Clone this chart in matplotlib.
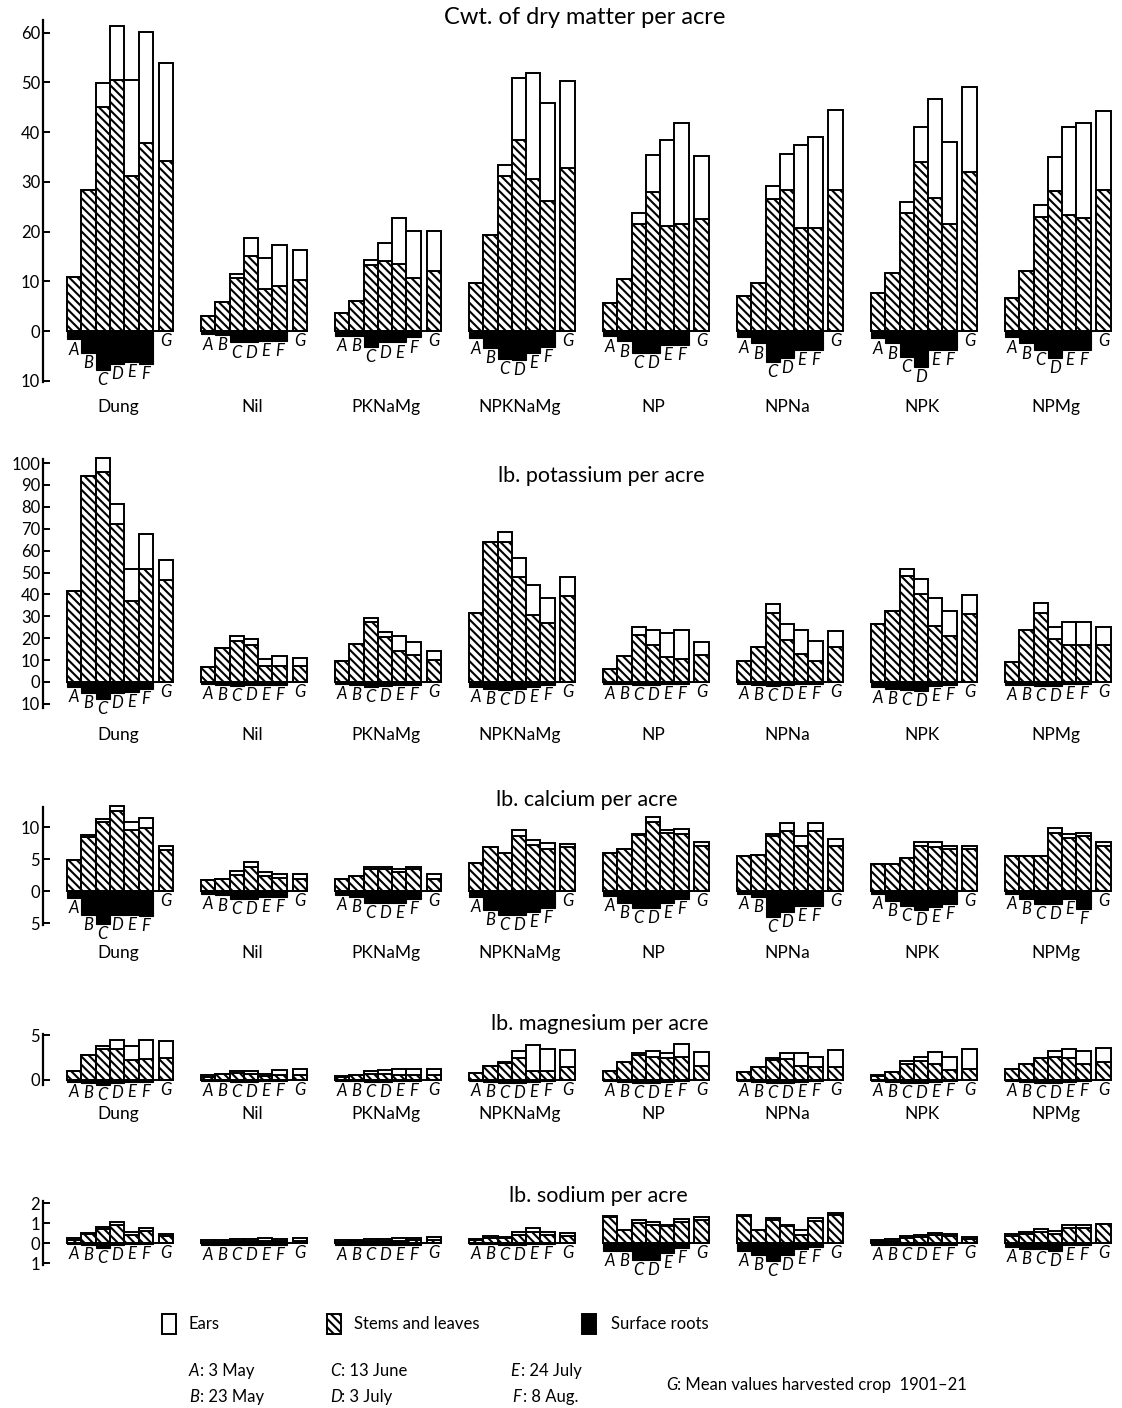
import matplotlib
matplotlib.use("Agg")
import matplotlib.pyplot as plt
import matplotlib.transforms as mtransforms
from matplotlib.patches import Rectangle

plt.rcParams['font.family'] = ['Lato', 'DejaVu Sans']
plt.rcParams['hatch.linewidth'] = 1.5

groups = ["Dung", "Nil", "PKNaMg", "NPKNaMg", "NP", "NPNa", "NPK", "NPMg"]
letters = ["A", "B", "C", "D", "E", "F", "G"]

# dry matter, cwt per acre (stems+leaves, total incl. ears, surface roots A-F)
dm_stems = [[10.9, 28.4, 45.0, 50.5, 31.1, 37.8, 34.2],
            [3.0, 5.9, 10.6, 15.0, 8.5, 9.1, 10.3],
            [3.7, 6.0, 13.3, 14.0, 13.5, 10.6, 12.1],
            [9.6, 19.3, 31.1, 38.5, 30.6, 26.2, 32.8],
            [5.7, 10.4, 21.5, 28.0, 21.1, 21.5, 22.6],
            [7.0, 9.7, 26.5, 28.4, 20.7, 20.7, 28.4],
            [7.7, 11.6, 23.7, 34.1, 26.8, 21.5, 31.9],
            [6.6, 12.1, 23.0, 28.2, 23.4, 22.7, 28.4]]
dm_total = [[10.9, 28.4, 49.9, 61.4, 50.5, 60.1, 53.9],
            [3.0, 5.9, 11.5, 18.8, 14.6, 17.4, 16.2],
            [3.7, 6.0, 14.3, 17.7, 22.7, 20.1, 20.1],
            [9.6, 19.3, 33.4, 50.9, 52.0, 45.8, 50.3],
            [5.7, 10.4, 23.7, 35.4, 38.5, 41.9, 35.3],
            [7.0, 9.7, 29.1, 35.6, 37.4, 39.0, 44.5],
            [7.7, 11.6, 26.0, 41.1, 46.6, 38.1, 49.1],
            [6.6, 12.1, 25.4, 35.1, 41.0, 41.9, 44.2]]
dm_roots = [[1.7, 4.5, 7.9, 6.7, 6.2, 6.6],
            [0.7, 0.8, 2.3, 2.3, 2.0, 2.0],
            [1.0, 1.0, 3.2, 2.3, 2.3, 1.3],
            [1.5, 3.5, 5.6, 5.8, 4.5, 3.2],
            [1.1, 2.1, 4.5, 4.5, 2.8, 2.8],
            [1.3, 2.5, 6.2, 5.5, 3.8, 3.8],
            [1.5, 2.5, 5.2, 7.2, 3.8, 3.8],
            [1.3, 2.5, 3.8, 5.5, 3.8, 3.8]]

# potassium, lb per acre
k_stems = [[41.5, 94.0, 95.8, 72.1, 37.1, 51.7, 46.5],
           [6.8, 15.5, 18.9, 16.7, 7.2, 7.2, 7.2],
           [9.5, 17.5, 27.6, 20.4, 14.0, 12.5, 10.0],
           [31.4, 64.1, 64.1, 48.0, 30.6, 26.8, 39.2],
           [6.0, 12.1, 21.4, 16.9, 11.3, 10.3, 12.5],
           [9.8, 15.8, 31.7, 19.3, 12.8, 9.8, 15.8],
           [26.7, 32.4, 48.3, 40.4, 25.6, 21.1, 31.2],
           [9.0, 23.8, 31.4, 19.6, 16.9, 16.9, 16.9]]
k_total = [[41.5, 94.0, 102.3, 81.4, 51.7, 67.6, 55.5],
           [6.8, 15.5, 20.8, 19.6, 10.3, 12.1, 11.0],
           [9.5, 17.5, 29.1, 22.8, 20.8, 18.1, 14.0],
           [31.4, 64.1, 68.3, 56.6, 44.2, 38.2, 48.0],
           [6.0, 12.1, 25.2, 23.7, 22.6, 23.8, 18.1],
           [9.8, 15.8, 35.4, 26.4, 23.7, 18.9, 23.4],
           [26.7, 32.4, 51.6, 47.1, 38.5, 32.4, 39.5],
           [9.0, 23.8, 35.9, 24.9, 27.6, 27.6, 25.2]]
k_roots = [[2.3, 4.8, 7.8, 4.8, 4.4, 3.3],
           [1.0, 1.2, 1.8, 1.5, 1.2, 1.2],
           [1.0, 1.5, 2.3, 2.0, 1.5, 1.2],
           [2.3, 3.3, 3.8, 3.3, 2.3, 1.5],
           [1.0, 1.0, 1.5, 1.5, 1.0, 1.0],
           [1.0, 1.5, 2.0, 1.5, 1.0, 1.0],
           [2.5, 3.0, 3.5, 4.0, 2.0, 1.5],
           [1.5, 1.5, 2.0, 2.0, 1.0, 1.0]]

# calcium, lb per acre
ca_stems = [[4.9, 8.4, 10.8, 12.5, 9.6, 9.9, 6.4],
            [1.7, 1.9, 2.5, 3.7, 2.4, 2.1, 1.9],
            [1.9, 2.3, 3.4, 3.5, 3.0, 3.4, 1.8],
            [4.4, 6.8, 5.9, 8.6, 7.2, 6.6, 6.8],
            [5.9, 6.5, 8.7, 10.8, 9.1, 8.9, 7.0],
            [5.5, 5.7, 8.6, 9.4, 7.0, 9.4, 7.0],
            [4.2, 4.2, 5.2, 7.0, 6.8, 6.5, 6.5],
            [5.5, 5.5, 5.4, 9.1, 8.3, 8.6, 7.0]]
ca_total = [[4.9, 8.7, 11.3, 13.3, 10.8, 11.4, 7.0],
            [1.7, 1.9, 3.2, 4.5, 2.9, 2.6, 2.6],
            [1.9, 2.3, 3.7, 3.8, 3.5, 3.7, 2.6],
            [4.4, 6.8, 5.9, 9.5, 7.9, 7.5, 7.3],
            [5.9, 6.5, 8.9, 11.6, 9.6, 9.7, 7.6],
            [5.5, 5.7, 8.9, 10.7, 8.6, 10.7, 8.1],
            [4.2, 4.2, 5.2, 7.7, 7.6, 7.1, 7.1],
            [5.5, 5.5, 5.4, 9.9, 8.9, 9.0, 7.6]]
ca_roots = [[1.1, 3.7, 5.1, 3.7, 3.7, 3.9],
            [0.4, 0.7, 1.3, 1.3, 0.9, 0.9],
            [0.6, 1.0, 1.8, 1.8, 1.8, 1.3],
            [1.0, 2.9, 3.7, 3.7, 3.3, 2.6],
            [0.8, 1.8, 2.6, 2.6, 1.8, 1.3],
            [0.5, 1.0, 4.0, 3.3, 2.3, 2.3],
            [0.5, 1.5, 2.3, 3.0, 2.5, 2.0],
            [0.5, 1.2, 2.0, 2.0, 1.2, 2.8]]

# magnesium, lb per acre
mg_stems = [[1.0, 2.8, 3.4, 3.5, 2.2, 2.3, 2.4],
            [0.3, 0.7, 0.8, 0.7, 0.4, 0.55, 0.55],
            [0.3, 0.55, 0.7, 0.7, 0.55, 0.55, 0.55],
            [0.8, 1.55, 1.9, 2.4, 1.05, 1.05, 1.45],
            [1.0, 2.0, 2.8, 2.6, 2.4, 2.6, 1.6],
            [0.9, 1.4, 2.2, 2.3, 1.6, 1.5, 1.5],
            [0.4, 0.9, 1.8, 2.1, 1.8, 1.1, 1.2],
            [1.2, 1.8, 2.4, 2.6, 2.5, 1.8, 2.0]]
mg_total = [[1.0, 2.8, 3.8, 4.4, 3.8, 4.4, 4.3],
            [0.55, 0.7, 1.05, 1.05, 0.7, 1.1, 1.2],
            [0.45, 0.55, 1.05, 1.1, 1.2, 1.2, 1.25],
            [0.8, 1.55, 2.0, 3.2, 3.85, 3.5, 3.3],
            [1.0, 2.0, 3.0, 3.2, 3.0, 4.0, 3.1],
            [0.9, 1.4, 2.4, 3.0, 3.0, 2.6, 3.3],
            [0.6, 0.9, 2.1, 2.6, 3.1, 2.6, 3.4],
            [1.2, 1.8, 2.5, 3.2, 3.4, 3.2, 3.6]]
mg_roots = [[0.2, 0.3, 0.5, 0.3, 0.2, 0.2],
            [0.1, 0.15, 0.2, 0.2, 0.15, 0.1],
            [0.1, 0.15, 0.2, 0.2, 0.15, 0.1],
            [0.15, 0.2, 0.3, 0.3, 0.2, 0.15],
            [0.15, 0.2, 0.3, 0.3, 0.2, 0.15],
            [0.15, 0.2, 0.3, 0.3, 0.2, 0.15],
            [0.15, 0.2, 0.3, 0.3, 0.2, 0.15],
            [0.15, 0.2, 0.3, 0.3, 0.2, 0.15]]

# sodium, lb per acre
na_stems = [[0.15, 0.45, 0.7, 0.9, 0.4, 0.6, 0.35],
            [0.05, 0.05, 0.08, 0.1, 0.1, 0.1, 0.1],
            [0.05, 0.08, 0.1, 0.1, 0.12, 0.15, 0.15],
            [0.15, 0.25, 0.25, 0.4, 0.55, 0.4, 0.35],
            [1.3, 0.67, 1.0, 0.92, 0.83, 1.03, 1.17],
            [1.37, 0.67, 1.17, 0.83, 0.42, 1.08, 1.42],
            [0.1, 0.1, 0.25, 0.3, 0.4, 0.35, 0.2],
            [0.35, 0.45, 0.55, 0.45, 0.75, 0.75, 0.95]]
na_total = [[0.25, 0.5, 0.8, 1.05, 0.55, 0.75, 0.45],
            [0.15, 0.15, 0.18, 0.2, 0.25, 0.2, 0.25],
            [0.15, 0.15, 0.2, 0.2, 0.25, 0.25, 0.3],
            [0.2, 0.35, 0.3, 0.55, 0.75, 0.55, 0.5],
            [1.35, 0.67, 1.17, 1.03, 0.92, 1.2, 1.3],
            [1.4, 0.67, 1.25, 0.92, 0.67, 1.25, 1.5],
            [0.15, 0.2, 0.35, 0.4, 0.5, 0.45, 0.3],
            [0.45, 0.55, 0.7, 0.6, 0.9, 0.9, 0.95]]
na_roots = [[0.05, 0.1, 0.25, 0.1, 0.05, 0.05],
            [0.1, 0.1, 0.1, 0.1, 0.1, 0.1],
            [0.1, 0.1, 0.1, 0.1, 0.1, 0.1],
            [0.05, 0.05, 0.1, 0.1, 0.05, 0.05],
            [0.42, 0.42, 0.83, 0.83, 0.5, 0.25],
            [0.4, 0.6, 0.9, 0.6, 0.3, 0.2],
            [0.1, 0.1, 0.1, 0.1, 0.1, 0.1],
            [0.2, 0.3, 0.3, 0.4, 0.1, 0.1]]

W, H = 1122, 1408
fig = plt.figure(figsize=(W / 100, H / 100), dpi=100)

GSTEP = 9.37      # group spacing in bar widths
GPOS = 6.4        # position of G bar
UNIT = 14.3       # px per bar width
AX_LEFT = 43


def fx(x):
    return x / W


def fy(y):
    return 1 - y / H


def panel(y0, ppu, top, bot, stems, total, roots, yticks, ybounds, title, title_xy,
          title_size, name_y):
    ax = fig.add_axes([fx(AX_LEFT), fy(bot), fx(W - AX_LEFT), (bot - top) / H])
    ax.set_xlim(0 - (67 - AX_LEFT) / UNIT, (W - 67) / UNIT)
    ax.set_ylim(-(bot - y0) / ppu, (y0 - top) / ppu)
    name_tr = mtransforms.blended_transform_factory(ax.transData, fig.transFigure)
    for i in range(len(groups)):
        x0 = i * GSTEP
        xs = [x0 + k for k in range(6)] + [x0 + GPOS]
        ears = [t - s for s, t in zip(stems[i], total[i])]
        ax.bar(xs, stems[i], width=1, align='edge', facecolor='white',
               edgecolor='black', hatch='\\\\\\\\', lw=1.4, zorder=2)
        ax.bar(xs, ears, bottom=stems[i], width=1, align='edge', facecolor='white',
               edgecolor='black', lw=1.4, zorder=2)
        ax.bar(xs[:6], [-r for r in roots[i]], width=1, align='edge',
               color='black', edgecolor='black', lw=0.8, zorder=2)
        ax.plot([x0, x0 + GPOS + 1], [0, 0], color='black', lw=1.4, zorder=3)
        for k, let in enumerate(letters):
            depth = roots[i][k] if k < 6 else 0
            ax.annotate(let, (xs[k] + 0.5, -depth), xytext=(0, -1.5),
                        textcoords='offset points', ha='center', va='top',
                        style='italic', fontsize=12, annotation_clip=False)
        if name_y is not None:
            ax.text(x0 + 3.55, fy(name_y), groups[i], ha='center', va='center',
                    fontsize=12.5, transform=name_tr)
    for s in ['top', 'right', 'bottom']:
        ax.spines[s].set_visible(False)
    ax.spines['left'].set_linewidth(1.6)
    ax.spines['left'].set_bounds(*ybounds)
    ax.set_xticks([])
    ax.set_yticks(yticks)
    ax.set_yticklabels([str(abs(t)) for t in yticks])
    ax.tick_params(axis='y', direction='in', length=5, width=1.4, labelsize=12, pad=2)
    ax.patch.set_visible(False)
    fig.text(fx(title_xy[0]), fy(title_xy[1]), title, ha='center', va='center',
             fontsize=title_size)
    return ax


panel(331, 4.97, 15, 400, dm_stems, dm_total, dm_roots,
      [-10, 0, 10, 20, 30, 40, 50, 60], (-10.3, 62.6),
      "Cwt. of dry matter per acre", (585, 18), 17, 407)
panel(682, 2.19, 455, 725, k_stems, k_total, k_roots,
      [-10, 0, 10, 20, 30, 40, 50, 60, 70, 80, 90, 100], (-12, 102),
      "lb. potassium per acre", (601, 476), 15.5, 735)
panel(891, 6.4, 800, 945, ca_stems, ca_total, ca_roots,
      [-5, 0, 5, 10], (-5.3, 13.1),
      "lb. calcium per acre", (587, 800), 15.5, 953)
panel(1080, 9.0, 1025, 1095, mg_stems, mg_total, mg_roots,
      [0, 5], (-0.5, 5.1),
      "lb. magnesium per acre", (600, 1024), 15.5, 1114)
panel(1243, 20.0, 1195, 1268, na_stems, na_total, na_roots,
      [-1, 0, 1, 2], (-1.1, 2.1),
      "lb. sodium per acre", (598, 1196), 15.5, None)

# legend
leg = fig.add_axes([0, 0, 1, 1])
leg.set_xlim(0, W)
leg.set_ylim(H, 0)
leg.axis('off')
leg.add_patch(Rectangle((162, 1314), 14, 20, facecolor='white', edgecolor='black', lw=1.4))
leg.add_patch(Rectangle((327, 1314), 14, 20, facecolor='white', edgecolor='black',
                        hatch='\\\\\\\\', lw=1.4))
leg.add_patch(Rectangle((582, 1314), 14, 20, facecolor='black', edgecolor='black', lw=1.4))
leg.text(189, 1324, "Ears", va='center', fontsize=12)
leg.text(354, 1324, "Stems and leaves", va='center', fontsize=12)
leg.text(611, 1324, "Surface roots", va='center', fontsize=12)

keys = [("A", ": 3 May", 189, 1371), ("B", ": 23 May", 189, 1397),
        ("C", ": 13 June", 330, 1371), ("D", ": 3 July", 330, 1397),
        ("E", ": 24 July", 510, 1371), ("F", ": 8 Aug.", 512, 1397),
        ("G", ": Mean values harvested crop  1901\u201321", 666, 1385)]
for let, txt, x, y in keys:
    leg.text(x, y, let, style='italic', va='center', fontsize=12)
    leg.text(x + 11, y, txt, va='center', fontsize=12)

fig.savefig("out.png", dpi=100)
